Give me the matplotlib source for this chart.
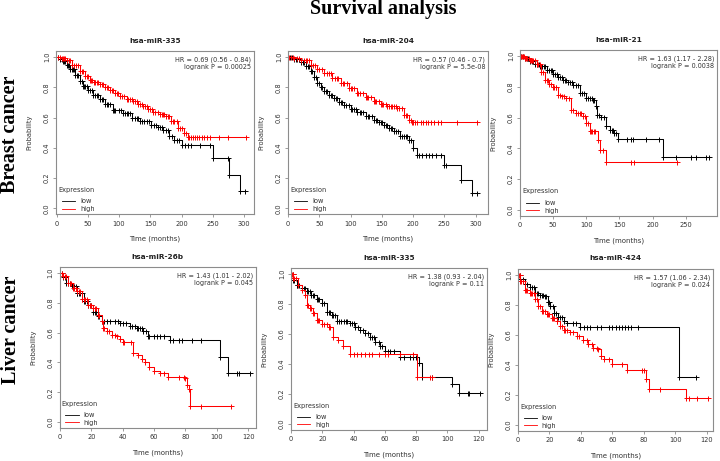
import numpy as np
import matplotlib
matplotlib.use('Agg')
import matplotlib.pyplot as plt

# ---- data (Kaplan-Meier steps + censor times)
titles = ['hsa-miR-335', 'hsa-miR-204', 'hsa-miR-21', 'hsa-miR-26b', 'hsa-miR-335', 'hsa-miR-424']
hr_text = ['HR = 0.69 (0.56 - 0.84)\nlogrank P = 0.00025',
           'HR = 0.57 (0.46 - 0.7)\nlogrank P = 5.5e-08',
           'HR = 1.63 (1.17 - 2.28)\nlogrank P = 0.0038',
           'HR = 1.43 (1.01 - 2.02)\nlogrank P = 0.045',
           'HR = 1.38 (0.93 - 2.04)\nlogrank P = 0.11',
           'HR = 1.57 (1.06 - 2.34)\nlogrank P = 0.024']
row_labels = ['Breast cancer', 'Liver cancer']

# panel 1: breast, hsa-miR-335
p1_low_t = [0, 5, 10, 16, 22, 30, 37, 42, 50, 58, 69, 78, 90, 106, 120, 133, 151, 162, 170, 180, 188, 200, 250, 276, 294]
p1_low_s = [1.0, 0.99, 0.975, 0.95, 0.92, 0.88, 0.84, 0.81, 0.785, 0.75, 0.72, 0.69, 0.65, 0.63, 0.60, 0.575, 0.55, 0.535, 0.52, 0.48, 0.45, 0.42, 0.334, 0.224, 0.112]
p1_low_end = 302
p1_low_cens = [3, 8, 12, 14, 18, 20, 24, 26, 28, 33, 35, 40, 44, 46, 48, 54, 56, 62, 64, 66, 72, 74, 80, 82, 86, 92, 94, 100, 103, 110, 113, 115, 118,
               125, 128, 130, 137, 140, 145, 148, 156, 159, 165, 168, 175, 178, 185, 193, 196, 205, 210, 215, 230, 245, 275, 302]
p1_high_t = [0, 8, 16, 25, 37, 45, 53, 60, 69, 77, 85, 93, 101, 112, 122, 130, 138, 146, 154, 165, 175, 183, 194, 204, 210]
p1_high_s = [1.0, 0.995, 0.98, 0.945, 0.905, 0.875, 0.85, 0.835, 0.82, 0.80, 0.785, 0.765, 0.74, 0.725, 0.71, 0.69, 0.675, 0.66, 0.64, 0.625, 0.61, 0.575, 0.53, 0.50, 0.47]
p1_high_end = 303
p1_high_cens = [2, 5, 10, 12, 14, 20, 22, 28, 31, 34, 40, 42, 48, 50, 55, 57, 62, 64, 66, 72, 74, 80, 82, 88, 90, 96, 98, 105, 108, 115, 118, 120, 126, 128,
                134, 136, 142, 144, 150, 152, 158, 162, 168, 170, 172, 178, 180, 186, 188, 192, 198, 201, 207, 212, 215, 218, 221, 225, 228, 232, 236, 240, 245, 260, 275, 303]

# panel 2: breast, hsa-miR-204
p2_low_t = [0, 10, 20, 28, 36, 41, 46, 52, 57, 65, 73, 81, 89, 100, 110, 124, 137, 145, 153, 161, 169, 179, 193, 200, 206, 250, 277, 294]
p2_low_s = [1.0, 0.99, 0.97, 0.94, 0.905, 0.87, 0.83, 0.80, 0.775, 0.75, 0.73, 0.705, 0.685, 0.66, 0.64, 0.61, 0.585, 0.57, 0.55, 0.53, 0.51, 0.477, 0.455, 0.40, 0.355, 0.285, 0.187, 0.10]
p2_low_end = 302
p2_low_cens = [3, 6, 12, 15, 18, 24, 26, 32, 34, 39, 44, 49, 55, 61, 63, 69, 71, 77, 79, 85, 87, 93, 97, 103, 105, 108, 115, 117, 120, 128, 130, 134, 141, 143,
               149, 151, 157, 159, 165, 167, 173, 176, 182, 185, 188, 190, 197, 210, 215, 220, 225, 230, 237, 245, 253, 302]
p2_high_t = [0, 10, 20, 36, 46, 57, 70, 84, 97, 110, 124, 137, 148, 158, 174, 185, 193, 198]
p2_high_s = [1.0, 0.995, 0.98, 0.95, 0.92, 0.895, 0.86, 0.83, 0.795, 0.763, 0.735, 0.708, 0.69, 0.675, 0.665, 0.62, 0.587, 0.57]
p2_high_end = 303
p2_high_cens = [2, 5, 8, 15, 18, 25, 28, 30, 34, 40, 43, 50, 54, 62, 66, 68, 75, 78, 80, 88, 90, 94, 100, 102, 106, 112, 115, 120, 126, 128, 132, 139, 141, 145,
                150, 152, 156, 162, 164, 166, 170, 172, 178, 182, 188, 190, 196, 200, 203, 207, 212, 216, 220, 224, 228, 233, 240, 245, 270, 303]

# panel 3: breast, hsa-miR-21
p3_low_t = [0, 8, 15, 22, 30, 40, 50, 58, 65, 72, 80, 90, 100, 110, 114, 116, 122, 130, 135, 142, 148, 215]
p3_low_s = [1.0, 0.99, 0.97, 0.95, 0.935, 0.913, 0.887, 0.865, 0.848, 0.83, 0.815, 0.76, 0.728, 0.717, 0.674, 0.62, 0.604, 0.543, 0.52, 0.497, 0.46, 0.343]
p3_low_end = 287
p3_low_cens = [2, 5, 10, 12, 18, 20, 25, 28, 33, 36, 38, 43, 46, 48, 53, 56, 61, 63, 68, 70, 76, 78, 84, 87, 93, 96, 103, 106, 108, 112, 119, 126, 138, 140, 145,
               162, 167, 170, 190, 210, 235, 258, 265, 280, 285]
p3_high_t = [0, 8, 15, 25, 32, 37, 44, 50, 57, 63, 70, 77, 85, 95, 100, 105, 111, 117, 121, 130]
p3_high_s = [1.0, 0.99, 0.978, 0.946, 0.9, 0.848, 0.82, 0.8, 0.75, 0.74, 0.728, 0.652, 0.63, 0.61, 0.565, 0.515, 0.51, 0.457, 0.39, 0.31]
p3_high_end = 237
p3_high_cens = [1, 3, 5, 6, 9, 11, 13, 16, 18, 20, 22, 27, 30, 35, 40, 42, 47, 52, 54, 55, 60, 66, 74, 80, 88, 90, 92, 98, 103, 107, 109, 113, 125, 168, 172, 237]

# panel 4: liver, hsa-miR-26b
p4_low_t = [0, 2, 4, 7.4, 10.6, 15, 18, 21, 24.4, 26.5, 38, 44.6, 49, 53, 56, 70, 102, 107]
p4_low_s = [1.0, 0.97, 0.93, 0.91, 0.866, 0.81, 0.788, 0.74, 0.71, 0.68, 0.665, 0.647, 0.63, 0.61, 0.58, 0.547, 0.435, 0.33]
p4_low_end = 121
p4_low_cens = [1, 3, 5, 6, 8, 9, 10, 11, 12, 13, 14, 16, 17, 19, 20, 22, 23, 25, 28, 30, 32, 35, 37, 40, 42, 46, 48, 50, 51, 52, 55, 57, 60, 62, 64, 66, 72, 76, 78, 84, 90, 113, 114, 121]
p4_high_t = [0, 2, 5.3, 8.5, 10.6, 13.8, 18, 21, 24.4, 26.5, 27.6, 29.7, 33, 36, 38, 40, 46.7, 50, 52, 54, 57, 60, 64, 69, 80, 81, 82, 83]
p4_high_s = [1.0, 0.978, 0.933, 0.9, 0.877, 0.828, 0.788, 0.766, 0.72, 0.676, 0.632, 0.61, 0.587, 0.576, 0.554, 0.538, 0.464, 0.453, 0.426, 0.4, 0.37, 0.34, 0.33, 0.30, 0.297, 0.25, 0.22, 0.11]
p4_high_end = 109
p4_high_cens = [1, 2, 3, 4, 6, 7, 9, 10, 11, 12, 13, 14, 15, 16, 17, 19, 20, 22, 23, 25, 28, 31, 35, 41, 45, 66, 76, 79, 90, 109]

# panel 5: liver, hsa-miR-335
p5_low_t = [0, 1.5, 3.6, 6.8, 10, 13, 16.5, 19.7, 22.9, 26, 29.3, 37.8, 41, 44, 47.4, 50.6, 54, 57, 60, 70, 81.6, 83.8, 103, 107.7]
p5_low_s = [1.0, 0.96, 0.93, 0.906, 0.884, 0.86, 0.835, 0.806, 0.75, 0.724, 0.684, 0.673, 0.65, 0.628, 0.606, 0.583, 0.55, 0.517, 0.488, 0.45, 0.405, 0.316, 0.265, 0.21]
p5_low_end = 121
p5_low_cens = [1, 2, 4, 5, 8, 9, 11, 12, 14, 15, 17, 18, 20, 21, 23, 24, 25, 27, 28, 31, 32, 34, 35, 36, 39, 40, 43, 46, 49, 52, 53, 56, 58, 62, 63, 66, 72, 76, 78, 80, 90, 113, 114, 121]
p5_high_t = [0, 1.5, 4.7, 6.8, 9, 10, 12, 14.3, 16.5, 19.7, 24, 27, 30, 33.5, 37.8, 80.6]
p5_high_s = [1.0, 0.973, 0.93, 0.895, 0.862, 0.795, 0.773, 0.74, 0.695, 0.666, 0.65, 0.583, 0.56, 0.52, 0.47, 0.314]
p5_high_end = 90
p5_high_cens = [0.5, 1, 2, 3, 11, 13, 15, 17, 18, 21, 23, 25, 40, 42, 45, 47, 50, 52, 56, 60, 62, 70, 78, 89, 90]

# panel 6: liver, hsa-miR-424
p6_low_t = [0, 1.5, 4.6, 7.8, 11, 14, 17.3, 18.8, 20.5, 22.6, 25.7, 29, 31, 39.5, 102.3]
p6_low_s = [1.0, 0.967, 0.94, 0.92, 0.88, 0.867, 0.856, 0.82, 0.79, 0.745, 0.717, 0.69, 0.675, 0.65, 0.32]
p6_low_end = 113
p6_low_cens = [1, 3, 6, 9, 10, 12, 13, 15, 16, 18, 19, 20, 22, 23, 24, 27, 28, 35, 37, 42, 44, 46, 50, 53, 58, 60, 62, 64, 66, 68, 70, 72, 76, 113]
p6_high_t = [0, 1.5, 4.6, 7.8, 11, 13, 15, 18.4, 21.5, 24.7, 26.8, 29, 33, 37.3, 41.6, 44.7, 47.9, 51, 53, 55, 59.5, 69.4, 81.6, 83.3, 107]
p6_high_s = [1.0, 0.956, 0.9, 0.878, 0.834, 0.79, 0.757, 0.735, 0.712, 0.69, 0.657, 0.628, 0.62, 0.59, 0.568, 0.535, 0.513, 0.502, 0.458, 0.436, 0.403, 0.365, 0.303, 0.237, 0.177]
p6_high_end = 121
p6_high_cens = [0.5, 1, 2, 3, 5, 6, 8, 9, 10, 12, 14, 16, 17, 19, 20, 22, 23, 25, 28, 30, 31, 35, 39, 44, 47, 50, 53, 58, 66, 79, 80, 90, 109, 114, 121]

panels = [
    (p1_low_t, p1_low_s, p1_low_end, p1_low_cens, p1_high_t, p1_high_s, p1_high_end, p1_high_cens),
    (p2_low_t, p2_low_s, p2_low_end, p2_low_cens, p2_high_t, p2_high_s, p2_high_end, p2_high_cens),
    (p3_low_t, p3_low_s, p3_low_end, p3_low_cens, p3_high_t, p3_high_s, p3_high_end, p3_high_cens),
    (p4_low_t, p4_low_s, p4_low_end, p4_low_cens, p4_high_t, p4_high_s, p4_high_end, p4_high_cens),
    (p5_low_t, p5_low_s, p5_low_end, p5_low_cens, p5_high_t, p5_high_s, p5_high_end, p5_high_cens),
    (p6_low_t, p6_low_s, p6_low_end, p6_low_cens, p6_high_t, p6_high_s, p6_high_end, p6_high_cens),
]

# ---- layout (pixels in a 720x461 figure): left, right, top, bottom
W, H = 720, 461
boxes = [(56, 254, 51, 214.5), (288, 488, 51, 214.5), (520, 717, 50, 216),
         (59.5, 256, 267, 428), (291, 487, 268, 430), (518, 713, 268.5, 431)]
xlims = [(-1, 316), (0, 320), (0, 297), (-0.4, 125), (0, 125.3), (0, 124)]
xticks = [np.arange(0, 301, 50), np.arange(0, 301, 50), np.arange(0, 251, 50),
          np.arange(0, 121, 20), np.arange(0, 121, 20), np.arange(0, 121, 20)]

box_col = '#8c8c8c'
txt_col = '#333333'


def km_plot(ax, t, s, end, cens, color):
    tt = list(t) + [end]
    ss = list(s) + [s[-1]]
    ax.step(tt, ss, where='post', color=color, lw=0.75)
    idx = np.searchsorted(t, cens, side='right') - 1
    cy = np.array(s)[idx]
    ax.plot(cens, cy, ls='none', marker='+', ms=3.6, mew=0.7, color=color)
    ax.plot(t[1:], s[1:], ls='none', marker='+', ms=3.6, mew=0.7, color=color)


fig = plt.figure(figsize=(7.2, 4.61), dpi=100)

for i, (l, r, top, bot) in enumerate(boxes):
    ax = fig.add_axes([l / W, 1 - bot / H, (r - l) / W, (bot - top) / H])
    lt, ls_, le, lc, ht, hs, he, hc = panels[i]
    km_plot(ax, lt, ls_, le, lc, 'black')
    km_plot(ax, ht, hs, he, hc, 'red')
    ax.set_xlim(*xlims[i])
    ax.set_ylim(-0.04, 1.04)
    ax.set_xticks(xticks[i])
    ax.set_yticks(np.arange(0, 1.01, 0.2))
    ax.set_yticklabels(['%.1f' % v for v in np.arange(0, 1.01, 0.2)], rotation=90, va='center')
    ax.tick_params(length=2.4, width=0.6, color=box_col, labelsize=4.8, labelcolor=txt_col, pad=2)
    for sp in ax.spines.values():
        sp.set_color(box_col)
        sp.set_linewidth(0.8)
    ax.set_title(titles[i], fontsize=5.3, fontweight='bold', color='#222222', pad=6)
    ax.set_xlabel('Time (months)', fontsize=5.0, color=txt_col, labelpad=6.5)
    ax.set_ylabel('Probability', fontsize=4.8, color=txt_col, labelpad=8)
    ax.text(0.985, 0.965, hr_text[i], transform=ax.transAxes, ha='right', va='top',
            fontsize=4.7, color=txt_col, linespacing=1.2)
    ax.text(0.012, 0.15, 'Expression', transform=ax.transAxes, ha='left', va='center',
            fontsize=4.8, color=txt_col)
    h1, = ax.plot([], [], color='black', lw=0.6)
    h2, = ax.plot([], [], color='red', lw=0.6)
    leg = ax.legend([h1, h2], ['low', 'high'], loc='lower left', bbox_to_anchor=(0.03, 0.015),
                    frameon=False, fontsize=4.8, handlelength=2.0, handletextpad=0.7,
                    labelspacing=0.25, borderaxespad=0, borderpad=0)
    for tx in leg.get_texts():
        tx.set_color(txt_col)

fig.text(383 / W, 1 - 9 / H, 'Survival analysis', ha='center', va='center',
         family='Liberation Serif', fontweight='bold', fontsize=14.5)
fig.text(10 / W, 1 - 134 / H, row_labels[0], ha='center', va='center', rotation=90,
         family='Liberation Serif', fontweight='bold', fontsize=14.5)
fig.text(11.5 / W, 1 - 330 / H, row_labels[1], ha='center', va='center', rotation=90,
         family='Liberation Serif', fontweight='bold', fontsize=14.5)

fig.savefig('out.png', dpi=100)
